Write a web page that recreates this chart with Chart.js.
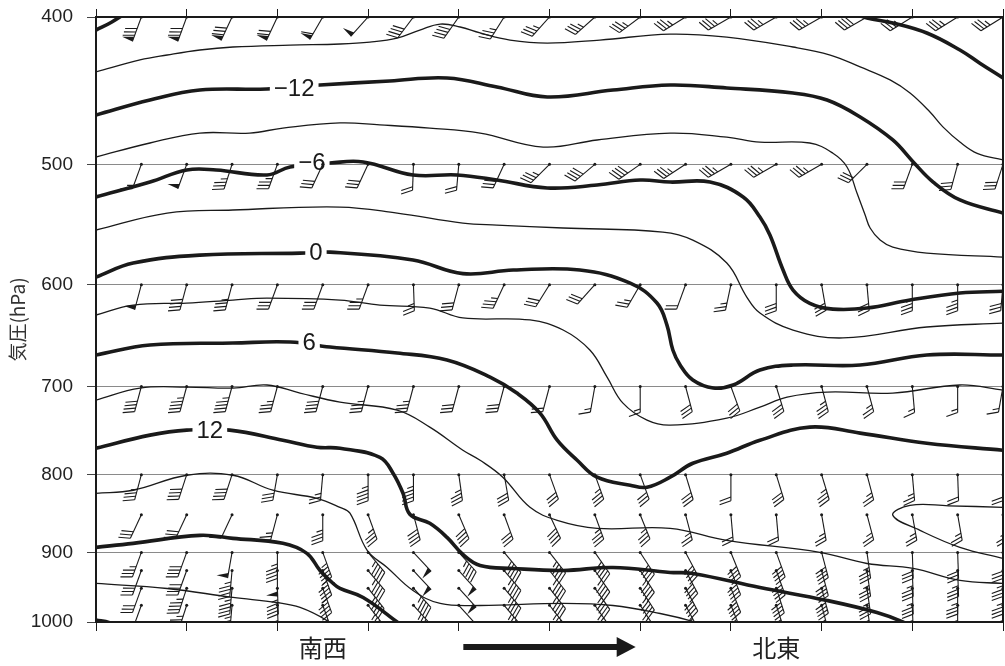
<!DOCTYPE html>
<html>
<head>
<meta charset="utf-8">
<script src="https://cdn.jsdelivr.net/npm/chart.js@4.4.1/dist/chart.umd.min.js"></script>
<style>
  body { margin: 0; background: #fff; }
  canvas { display: block; }
</style>
</head>
<body>
<canvas id="crossSection" width="1005" height="666"></canvas>
<script>
// x: grid column along the section (0 = SW end, 20 = NE end), y: pressure hPa
const pressureTicks = [400, 500, 600, 700, 800, 900, 1000];
const placeLabels = { 5: "南西", 15: "北東" };

// isotherms, [column, hPa]
const isoM18a = [[0, 408], [0.35, 403], [0.75, 396]];
const isoM18b = [[16.63, 397], [17.0, 400.6], [17.57, 403.6], [18.32, 409.8], [19.05, 420.5], [19.49, 429.0], [20, 438.7]];
const isoM15 = [[0, 434.7], [0.97, 426.9], [1.57, 423.7], [2.29, 420.5], [3.02, 418.6], [4.28, 417.4], [5.38, 416.7], [6.04, 415.5], [6.64, 413.0], [7.14, 408.0], [7.59, 404.3], [8.03, 406.1], [8.47, 409.8], [9.13, 414.2], [9.95, 416.1], [11.11, 414.2], [12.66, 410.5], [13.91, 412.4], [15.37, 418.6], [16.19, 423.7], [16.85, 431.4], [17.51, 440.0], [17.95, 448.8], [18.39, 461.9], [18.68, 472.6], [19.05, 483.4], [19.43, 491.7], [20, 496.7]];
const isoM12 = [[0, 464.0], [1.19, 453.6], [2.29, 446.8], [3.77, 446.1], [4.94, 443.4], [6.48, 440.7], [7.74, 438.7], [8.84, 444.7], [9.95, 451.5], [11.40, 446.8], [12.66, 443.4], [13.91, 445.4], [15.37, 448.8], [16.12, 453.6], [16.85, 465.4], [17.57, 481.9], [18.02, 498.2], [18.46, 513.6], [19.05, 527.7], [20, 538.3]];
const isoM9 = [[0, 494.5], [1.19, 484.1], [2.29, 476.9], [3.39, 476.9], [4.12, 473.3], [5.38, 469.6], [6.26, 471.0], [7.36, 473.3], [8.47, 476.9], [9.86, 487.1], [11.05, 481.9], [12.66, 476.9], [13.91, 479.8], [14.64, 483.4], [15.74, 484.1], [16.25, 491.7], [16.56, 502.0], [16.78, 522.2], [16.96, 539.9], [17.07, 550.6], [17.29, 560.8], [17.57, 566.8], [18.32, 571.9], [20, 575.4]];
const isoM6 = [[0, 525.3], [1.19, 513.6], [2.0, 504.3], [2.65, 504.3], [3.77, 508.1], [4.28, 502.0], [5.16, 499.0], [5.89, 498.2], [6.99, 508.1], [7.96, 508.1], [8.84, 512.0], [9.95, 518.2], [11.05, 515.9], [12.0, 512.0], [12.66, 513.6], [13.54, 513.6], [14.27, 525.3], [14.64, 541.5], [14.86, 556.5], [15.15, 586.8], [15.37, 604.9], [15.74, 617.2], [16.25, 622.6], [17.0, 621.6], [17.95, 614.1], [19.05, 607.6], [20, 606.0]];
const isoM3 = [[0, 552.3], [1.57, 538.3], [3.02, 535.8], [5.38, 533.4], [6.64, 538.3], [8.09, 546.5], [8.84, 548.2], [10.30, 550.6], [12.50, 554.0], [13.16, 560.8], [13.91, 580.6], [14.35, 611.3], [14.64, 626.3], [15.37, 642.6], [16.47, 650.4], [18.32, 639.7], [20, 635.9]];
const iso0 = [[0, 593.1], [0.82, 580.6], [2.29, 573.7], [4.5, 572.0], [5.16, 571.1], [6.99, 578.0], [8.09, 590.0], [9.20, 586.8], [10.67, 586.8], [11.78, 598.5], [12.37, 616.9], [12.59, 637.8], [12.72, 662.4], [12.88, 677.6], [13.16, 693.2], [13.61, 701.6], [14.05, 698.4], [14.64, 682.8], [15.37, 677.6], [16.85, 677.6], [18.32, 667.4], [20, 667.4]];
const iso3 = [[0, 628.2], [0.82, 618.8], [2.0, 616.9], [3.02, 614.1], [3.77, 612.3], [5.38, 614.1], [6.26, 618.8], [7.36, 621.6], [8.09, 631.0], [9.57, 632.9], [10.30, 642.6], [10.89, 662.4], [11.27, 690.1], [11.62, 717.9], [12.15, 736.6], [12.66, 742.2], [13.91, 734.4], [14.64, 722.2], [15.24, 711.3], [16.12, 705.9], [17.57, 707.0], [19.05, 698.4], [20, 703.8]];
const iso6 = [[0, 667.4], [1.19, 657.4], [3.02, 655.4], [4.28, 654.4], [5.16, 659.4], [6.64, 665.4], [7.74, 672.5], [8.69, 690.1], [9.28, 707.0], [9.79, 728.8], [10.17, 759.3], [10.61, 782.7], [11.05, 803.1], [11.78, 812.9], [12.15, 815.4], [12.66, 803.1], [13.16, 786.3], [13.91, 774.4], [14.64, 759.3], [15.74, 744.4], [16.85, 751.2], [18.32, 762.8], [20, 770.9]];
const iso9 = [[0, 714.6], [0.97, 701.7], [2.0, 700.6], [3.02, 701.7], [3.77, 698.4], [4.5, 707.0], [5.38, 716.8], [6.64, 725.5], [7.36, 744.4], [8.09, 770.9], [8.47, 782.7], [8.97, 803.1], [9.57, 840.6], [10.17, 857.3], [11.05, 867.8], [12.66, 867.8], [13.91, 883.7], [15.96, 899.9], [17.0, 915.2], [18.02, 922.1], [19.05, 939.0], [20, 943.3]];
const iso9b = [[20, 840.6], [18.8, 838.6], [17.95, 838.1], [17.57, 850.8], [18.17, 870.4], [19.05, 893.1], [20, 908.2]];
const iso12 = [[0, 768.6], [1.19, 753.5], [2.0, 747.8], [2.95, 747.8], [4.12, 759.3], [4.87, 767.4], [5.38, 768.6], [6.26, 779.2], [6.55, 798.2], [6.77, 822.9], [6.92, 849.5], [7.36, 861.2], [7.74, 879.7], [8.09, 902.7], [8.47, 918.0], [9.20, 922.1], [10.30, 924.9], [11.40, 920.7], [12.66, 927.7], [13.16, 929.1], [14.64, 949.1], [16.12, 967.9], [17.22, 985.7], [17.79, 1000], [18.06, 1012]];
const iso15 = [[0, 822.9], [0.82, 819.1], [2.0, 800.7], [3.02, 800.7], [3.9, 819.1], [4.87, 829.2], [5.38, 840.6], [5.6, 848.1], [5.98, 897.2], [6.42, 920.7], [6.99, 953.4], [7.59, 972.3], [8.47, 975.3], [10.30, 972.3], [11.40, 975.3], [12.44, 987.2], [13.21, 1000], [13.54, 1009]];
const iso18 = [[0, 893.1], [0.82, 887.7], [2.29, 877.0], [3.02, 881.0], [4.12, 887.7], [4.65, 901.3], [4.94, 924.9], [5.23, 943.3], [5.38, 950.5], [5.89, 963.5], [6.64, 1000], [6.92, 1015]];
const iso21 = [[0, 943.3], [1.57, 950.5], [3.02, 963.5], [3.99, 970.9], [4.5, 978.2], [5.09, 997.7], [5.27, 1010]];
const iso24 = [[0, 997], [0.3, 1001], [0.6, 1010]];

const isotherms = [
  [-18, isoM18a], [-18, isoM18b], [-15, isoM15], [-12, isoM12], [-9, isoM9],
  [-6, isoM6], [-3, isoM3], [0, iso0], [3, iso3], [6, iso6], [9, iso9], [9, iso9b],
  [12, iso12], [15, iso15], [18, iso18], [21, iso21], [24, iso24],
];

// contour labels: text and where it sits (column, hPa)
const isoLabelText = ["\u221212", "\u22126", "0", "6", "12"];
const isoLabelX = [4.37, 4.76, 4.85, 4.70, 2.51];
const isoLabelP = [445.4, 498.2, 571.1, 654.4, 747.8];

// wind barbs: direction (deg, from) and speed (kt) per level, columns 1..20
const windCols = [1, 2, 3, 4, 5, 6, 7, 8, 9, 10, 11, 12, 13, 14, 15, 16, 17, 18, 19, 20];
const windLevels = [400, 500, 600, 700, 800, 850, 900, 925, 950, 975];
const dir400 = [200, 200, 205, 205, 210, 222, 217, 215, 212, 222, 228, 233, 238, 240, 240, 240, 240, 238, 238, 238];
const spd400 = [80, 80, 80, 70, 60, 50, 40, 40, 35, 35, 35, 35, 35, 35, 35, 35, 40, 35, 35, 35];
const dir500 = [200, 200, 198, 200, 205, 205, 182, 185, 205, 225, 230, 235, 237, 240, 240, 240, 225, 200, 195, 198];
const spd500 = [15, 50, 35, 35, 30, 30, 20, 20, 30, 35, 40, 40, 35, 35, 35, 35, 30, 30, 30, 30];
const dir600 = [195, 195, 195, 200, 200, 200, 178, 195, 205, 212, 222, 210, 200, 192, 180, 170, 175, 180, 180, 185];
const spd600 = [50, 40, 35, 30, 30, 35, 25, 30, 35, 30, 30, 25, 20, 25, 30, 30, 30, 35, 35, 30];
const dir700 = [195, 195, 195, 195, 195, 195, 195, 195, 195, 195, 190, 180, 165, 160, 163, 165, 165, 175, 180, 190];
const spd700 = [40, 45, 45, 35, 40, 35, 35, 30, 30, 20, 15, 15, 30, 30, 30, 35, 25, 15, 15, 15];
const dir800 = [195, 198, 198, 190, 185, 180, 180, 172, 170, 160, 160, 160, 163, 180, 163, 163, 165, 175, 178, 180];
const spd800 = [35, 40, 40, 30, 25, 45, 45, 35, 30, 30, 35, 30, 30, 20, 30, 35, 25, 25, 20, 20];
const dir850 = [205, 205, 205, 195, 180, 160, 165, 157, 160, 155, 160, 158, 165, 175, 175, 170, 165, 170, 170, 170];
const spd850 = [30, 30, 10, 25, 35, 35, 40, 40, 30, 40, 35, 35, 25, 20, 20, 25, 25, 25, 25, 25];
const dir900 = [200, 200, 190, 180, 160, 140, 137, 138, 140, 142, 145, 147, 152, 158, 160, 165, 172, 178, 178, 180];
const spd900 = [35, 40, 50, 45, 45, 45, 50, 45, 45, 45, 45, 40, 40, 40, 40, 40, 35, 30, 30, 30];
const dir925 = [200, 200, 185, 180, 160, 140, 137, 138, 140, 142, 145, 147, 152, 158, 160, 165, 172, 178, 178, 180];
const spd925 = [30, 40, 45, 50, 45, 45, 50, 50, 45, 45, 45, 45, 40, 40, 40, 40, 35, 35, 35, 35];
const dir950 = [200, 198, 185, 178, 160, 142, 138, 138, 140, 142, 145, 147, 152, 158, 162, 165, 172, 178, 180, 180];
const spd950 = [30, 45, 45, 45, 45, 45, 45, 50, 45, 45, 45, 45, 40, 40, 40, 40, 35, 35, 35, 35];
const dir975 = [200, 198, 185, 178, 160, 142, 138, 138, 140, 142, 145, 147, 152, 158, 162, 165, 172, 178, 180, 180];
const spd975 = [30, 45, 45, 40, 40, 45, 45, 50, 45, 45, 45, 45, 40, 40, 40, 40, 35, 35, 35, 35];

const windDir = [dir400, dir500, dir600, dir700, dir800, dir850, dir900, dir925, dir950, dir975];
const windSpd = [spd400, spd500, spd600, spd700, spd800, spd850, spd900, spd925, spd950, spd975];

Chart.defaults.font.family = "'Liberation Sans', Arial, sans-serif";
Chart.defaults.color = "#222";

const INK = "#1a1a1a";

function drawBarb(ctx, px, py, dir, spd) {
  const a = dir * Math.PI / 180;
  const dx = Math.sin(a), dy = -Math.cos(a);   // staff points where the wind comes from
  const nx = -dy, ny = dx;
  const fx = 0.34 * dx + 0.94 * nx, fy = 0.34 * dy + 0.94 * ny;
  const L = 26, F = 12, step = 3.6;
  const at = (d) => [px + dx * d, py + dy * d];

  ctx.beginPath();
  ctx.moveTo(px, py);
  ctx.lineTo(px + dx * L, py + dy * L);
  ctx.stroke();
  ctx.beginPath();
  ctx.arc(px, py, 1.5, 0, Math.PI * 2);
  ctx.fill();

  let s = Math.round(spd / 5) * 5;
  let pos = 0;
  while (s >= 50) {
    const [ax, ay] = at(L - pos);
    const [cx, cy] = at(L - pos - 5);
    ctx.beginPath();
    ctx.moveTo(ax, ay);
    ctx.lineTo(cx + fx * F, cy + fy * F);
    ctx.lineTo(cx, cy);
    ctx.closePath();
    ctx.fill();
    pos += 6.5;
    s -= 50;
  }
  while (s >= 10) {
    const [bx, by] = at(L - pos);
    ctx.beginPath();
    ctx.moveTo(bx, by);
    ctx.lineTo(bx + fx * F, by + fy * F);
    ctx.stroke();
    pos += step;
    s -= 10;
  }
  if (s >= 5) {
    if (pos === 0) pos = step;
    const [bx, by] = at(L - pos);
    ctx.beginPath();
    ctx.moveTo(bx, by);
    ctx.lineTo(bx + fx * F * 0.55, by + fy * F * 0.55);
    ctx.stroke();
  }
}

const overlayPlugin = {
  id: "overlay",
  afterDatasetsDraw(chart) {
    const { ctx, chartArea } = chart;
    const xs = chart.scales.x, ys = chart.scales.y;
    ctx.save();
    ctx.beginPath();
    ctx.rect(chartArea.left, chartArea.top, chartArea.right - chartArea.left, chartArea.bottom - chartArea.top);
    ctx.clip();

    // contour labels, with a white gap in the line
    ctx.font = "24px 'Liberation Sans', Arial, sans-serif";
    ctx.textAlign = "center";
    ctx.textBaseline = "middle";
    isoLabelText.forEach((t, i) => {
      const px = xs.getPixelForValue(isoLabelX[i]);
      const py = ys.getPixelForValue(isoLabelP[i]);
      const w = ctx.measureText(t).width + 8;
      ctx.fillStyle = "#fff";
      ctx.fillRect(px - w / 2, py - 10, w, 20);
      ctx.fillStyle = INK;
      ctx.fillText(t, px, py + 1);
    });

    // wind barbs
    ctx.strokeStyle = INK;
    ctx.fillStyle = INK;
    ctx.lineWidth = 1.1;
    windLevels.forEach((p, li) => {
      windCols.forEach((c, ci) => {
        drawBarb(ctx, xs.getPixelForValue(c), ys.getPixelForValue(p), windDir[li][ci], windSpd[li][ci]);
      });
    });
    ctx.restore();
  },
  afterDraw(chart) {
    // direction arrow under the axis
    const { ctx } = chart;
    const xs = chart.scales.x;
    const x0 = xs.getPixelForValue(8.1), x1 = xs.getPixelForValue(11.9);
    const yA = xs.top + 25;
    ctx.save();
    ctx.fillStyle = INK;
    ctx.fillRect(x0, yA - 3, x1 - 18 - x0, 6);
    ctx.beginPath();
    ctx.moveTo(x1 - 19, yA - 10);
    ctx.lineTo(x1, yA);
    ctx.lineTo(x1 - 19, yA + 10);
    ctx.closePath();
    ctx.fill();
    ctx.restore();
  },
};

const datasets = isotherms.map(([t, pts]) => ({
  label: String(t),
  data: pts.map(([x, p]) => ({ x: x, y: p })),
  borderColor: INK,
  borderWidth: t % 6 === 0 ? 3.6 : 1.3,
  pointRadius: 0,
  tension: 0.4,
  fill: false,
  clip: 0,
}));

const everyColumn = (scale) => {
  scale.ticks = [];
  for (let i = 0; i <= 20; i++) scale.ticks.push({ value: i });
};
const evenTickColor = (c) => (c.tick && c.tick.value % 2 === 0 ? INK : "rgba(0,0,0,0)");

// fixed box sizes, no extra room for overhanging labels
const fixBox = (w, h) => (s) => {
  if (w !== null) s.width = w;
  if (h !== null) s.height = h;
  s.paddingTop = 0;
  s.paddingBottom = 0;
  s.paddingLeft = 0;
  s.paddingRight = 0;
};

const ctx = document.getElementById("crossSection").getContext("2d");
new Chart(ctx, {
  type: "line",
  data: { datasets: datasets },
  plugins: [overlayPlugin],
  options: {
    responsive: false,
    animation: false,
    events: [],
    layout: { padding: 0 },
    plugins: { legend: { display: false }, tooltip: { enabled: false } },
    scales: {
      x: {
        type: "linear",
        position: "bottom",
        min: 0,
        max: 20,
        afterBuildTicks: everyColumn,
        afterFit: fixBox(null, 44),
        grid: { drawOnChartArea: false, tickLength: 9, tickColor: evenTickColor, lineWidth: 1 },
        border: { color: INK, width: 2 },
        ticks: {
          autoSkip: false,
          maxRotation: 0,
          padding: 2,
          color: "#222",
          font: { family: "'Noto Sans CJK JP', sans-serif", size: 24 },
          callback: (v) => placeLabels[v] || "",
        },
      },
      xTop: {
        type: "linear",
        position: "top",
        min: 0,
        max: 20,
        afterBuildTicks: everyColumn,
        afterFit: fixBox(null, 17),
        grid: { drawOnChartArea: false, tickLength: 8, tickColor: evenTickColor, lineWidth: 1 },
        border: { color: INK, width: 2 },
        ticks: { display: false },
      },
      y: {
        type: "logarithmic",
        position: "left",
        reverse: true,
        min: 400,
        max: 1000,
        afterBuildTicks: (s) => { s.ticks = pressureTicks.map((v) => ({ value: v })); },
        afterFit: fixBox(96, null),
        grid: { color: "#8a8a8a", lineWidth: 1, tickLength: 9, tickColor: "#444" },
        border: { color: INK, width: 2 },
        ticks: {
          autoSkip: false,
          padding: 14,
          color: "#222",
          font: { size: 19 },
          callback: (v) => String(v),
        },
        title: {
          display: true,
          text: "気圧(hPa)",
          color: "#333",
          font: { family: "'Noto Sans CJK JP', sans-serif", size: 19 },
          padding: { top: 6, bottom: 0 },
        },
      },
      yRight: {
        type: "linear",
        position: "right",
        afterFit: fixBox(2, null),
        grid: { display: false },
        border: { color: INK, width: 2 },
        ticks: { display: false },
      },
    },
  },
});
</script>
</body>
</html>
